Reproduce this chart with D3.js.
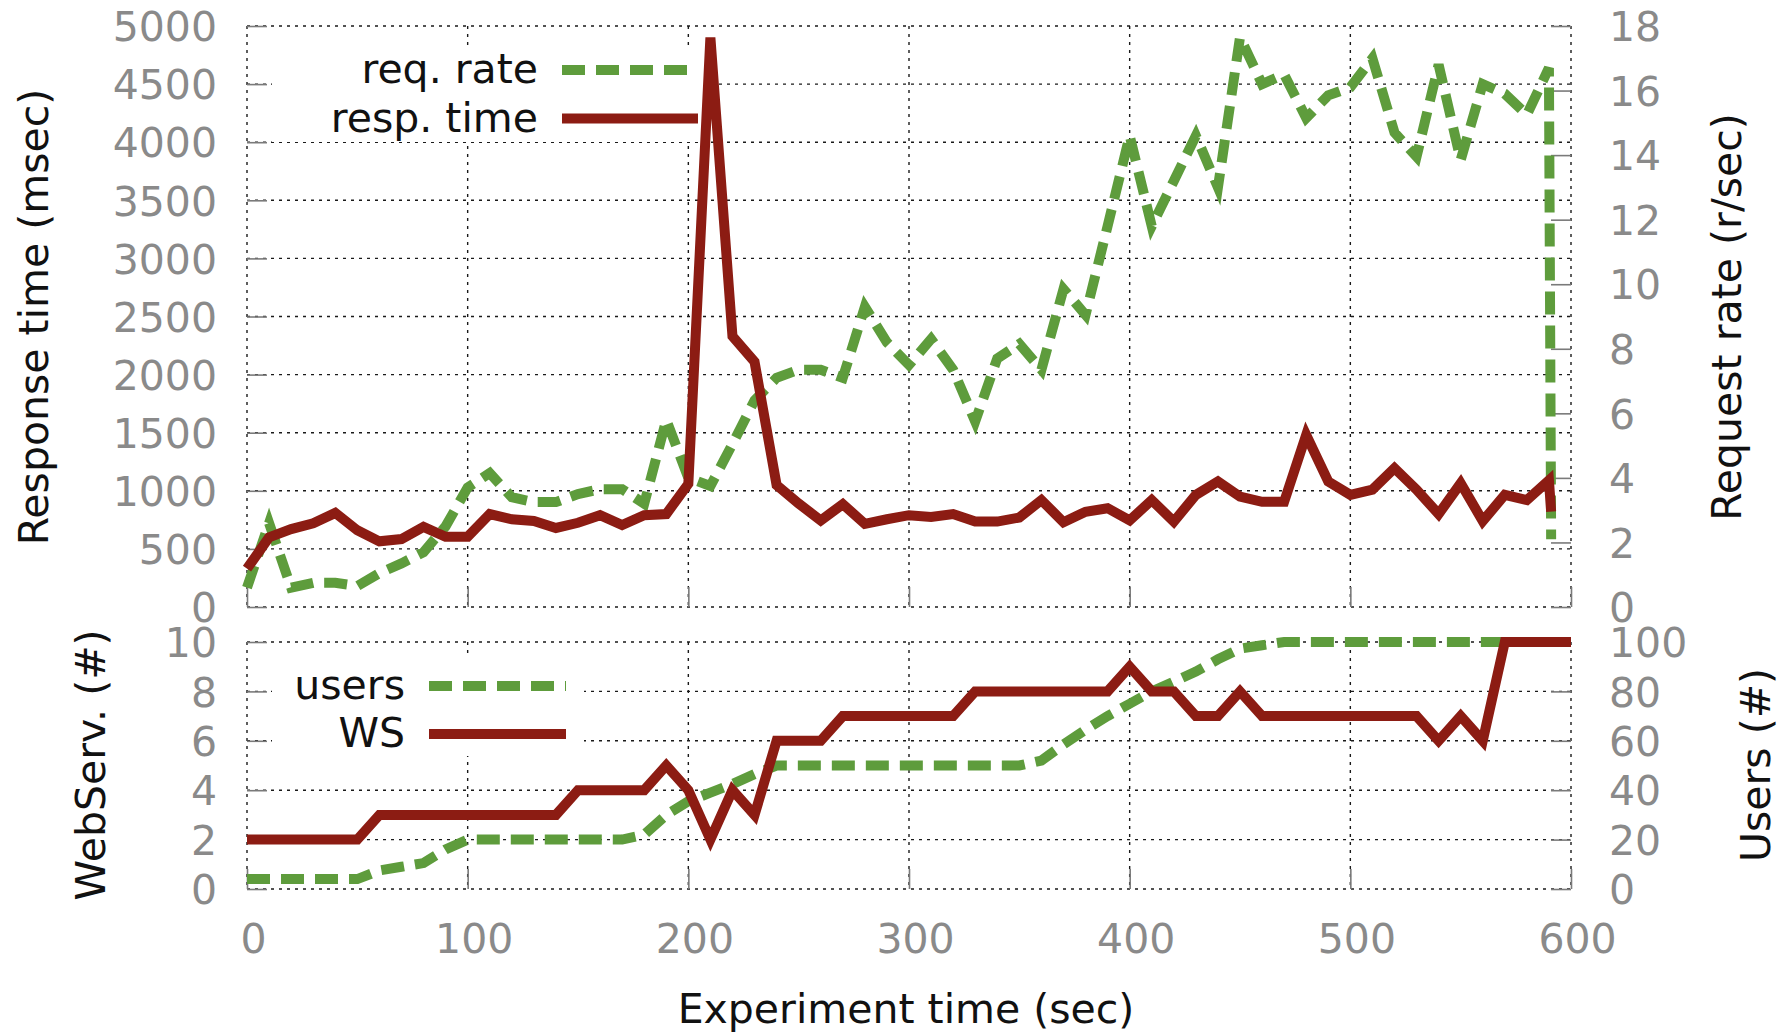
<!DOCTYPE html>
<html>
<head>
<meta charset="utf-8">
<script src="https://cdn.jsdelivr.net/npm/d3@7/dist/d3.min.js"></script>
<style>
  body { margin: 0; background: #fff; }
  svg { display: block; }
  text { font-family: "DejaVu Sans", sans-serif; }
</style>
</head>
<body>
<svg id="chart" width="1789" height="1034"></svg>
<script>
// ---------------- data ----------------
const timeTop = [0,10,20,30,40,50,60,70,80,90,100,110,120,130,140,150,160,170,180,190,200,210,220,230,240,250,260,270,280,290,300,310,320,330,340,350,360,370,380,390,400,410,420,430,440,450,460,470,480,490,500,510,520,530,540,550,560,570,580,590,591];
const respTime = [330,600,670,720,810,660,565,585,690,605,605,800,755,740,680,725,790,706,790,800,1060,4900,2330,2110,1050,890,745,885,715,755,790,775,800,735,735,770,920,730,820,850,745,920,735,965,1080,950,905,905,1480,1080,965,1010,1195,1010,800,1065,740,965,920,1090,820];
const reqRate = [0.6,2.6,0.6,0.75,0.75,0.65,1.05,1.35,1.7,2.5,3.7,4.15,3.4,3.25,3.25,3.5,3.65,3.65,3.2,5.8,4.0,3.75,5.05,6.4,7.1,7.35,7.35,7.1,9.3,8.2,7.5,8.3,7.35,5.75,7.7,8.15,7.35,9.85,9.05,11.8,14.6,11.8,13.2,14.6,13.0,17.65,16.2,16.5,15.15,15.85,16.1,17.0,14.7,13.95,16.8,13.85,16.2,15.9,15.25,16.7,2.1];

const timeBottom = [0,10,20,30,40,50,60,70,80,90,100,110,120,130,140,150,160,170,180,190,200,210,220,230,240,250,260,270,280,290,300,310,320,330,340,350,360,370,380,390,400,410,420,430,440,450,460,470,480,490,500,510,520,530,540,550,560,570,580,590,600];
const users = [4,4,4,4,4,4,7.5,9,10.5,16,20,20,20,20,20,20,20,20,22,30,35.5,39,42.5,46.5,50,50,50,50,50,50,50,50,50,50,50,50,52,58.5,64.5,70,75,80,84,88,93,97.3,98.7,100,100,100,100,100,100,100,100,100,100,100,100,100,100];
const webServers = [2,2,2,2,2,2,3,3,3,3,3,3,3,3,3,4,4,4,4,5,4,2,4,3,6,6,6,7,7,7,7,7,7,8,8,8,8,8,8,8,9,8,8,7,7,8,7,7,7,7,7,7,7,7,6,7,6,10,10,10,10];

const xTicks = [0,100,200,300,400,500,600];
const respTicks = [0,500,1000,1500,2000,2500,3000,3500,4000,4500,5000];
const rateTicks = [0,2,4,6,8,10,12,14,16,18];
const wsTicks = [0,2,4,6,8,10];
const userTicks = [0,20,40,60,80,100];

const topLegend = ["req. rate", "resp. time"];
const bottomLegend = ["users", "WS"];

// ---------------- layout ----------------
const L = 247, R = 1571;
const top1 = 26, bot1 = 607;
const top2 = 642, bot2 = 889;
const FS = 41;
const GREEN = "#5e9c3c", RED = "#8c1c13";
const TICKC = "#7a7a7a", LABELC = "#8a8a8a";
const fmt = d3.format("d");

const svg = d3.select("#chart");
svg.append("rect").attr("width", 1789).attr("height", 1034).attr("fill", "#fff");

const x = d3.scaleLinear().domain([0, 600]).range([L, R]);
const yResp = d3.scaleLinear().domain([0, 5000]).range([bot1, top1]);
const yRate = d3.scaleLinear().domain([0, 18]).range([bot1, top1]);
const yWS = d3.scaleLinear().domain([0, 10]).range([bot2, top2]);
const yUsers = d3.scaleLinear().domain([0, 100]).range([bot2, top2]);

function grid(yScale, yVals, y0, y1) {
  const g = svg.append("g").attr("stroke", "#1a1a1a").attr("stroke-width", 1.4)
    .attr("stroke-dasharray", "3,5").attr("fill", "none");
  g.selectAll("line.v").data(xTicks).join("line")
    .attr("x1", d => x(d)).attr("x2", d => x(d)).attr("y1", y0).attr("y2", y1);
  g.selectAll("line.h").data(yVals).join("line")
    .attr("x1", L).attr("x2", R).attr("y1", d => yScale(d)).attr("y2", d => yScale(d));
}
grid(yResp, respTicks, top1, bot1);
grid(yWS, wsTicks, top2, bot2);

function styleAxis(g) {
  g.select(".domain").remove();
  g.selectAll(".tick line").attr("stroke", TICKC).attr("stroke-width", 1.6);
  g.selectAll(".tick text").attr("fill", LABELC).attr("font-size", FS)
    .attr("font-family", "DejaVu Sans, sans-serif");
}

// left axes
svg.append("g").attr("transform", `translate(${L},0)`)
  .call(d3.axisLeft(yResp).tickValues(respTicks).tickFormat(fmt).tickSize(-20).tickPadding(30))
  .call(styleAxis).call(g => g.selectAll(".tick text").attr("dy", "0.36em"));
svg.append("g").attr("transform", `translate(${L},0)`)
  .call(d3.axisLeft(yWS).tickValues(wsTicks).tickFormat(fmt).tickSize(-20).tickPadding(30))
  .call(styleAxis).call(g => g.selectAll(".tick text").attr("dy", "0.36em"));
// right axes
svg.append("g").attr("transform", `translate(${R},0)`)
  .call(d3.axisRight(yRate).tickValues(rateTicks).tickFormat(fmt).tickSize(-20).tickPadding(38))
  .call(styleAxis).call(g => g.selectAll(".tick text").attr("dy", "0.36em"));
svg.append("g").attr("transform", `translate(${R},0)`)
  .call(d3.axisRight(yUsers).tickValues(userTicks).tickFormat(fmt).tickSize(-20).tickPadding(38))
  .call(styleAxis).call(g => g.selectAll(".tick text").attr("dy", "0.36em"));
// bottom axes
svg.append("g").attr("transform", `translate(0,${bot1})`)
  .call(d3.axisBottom(x).tickValues(xTicks).tickSize(-20).tickFormat(""))
  .call(styleAxis);
svg.append("g").attr("transform", `translate(0,${bot2})`)
  .call(d3.axisBottom(x).tickValues(xTicks).tickFormat(fmt).tickSize(-20).tickPadding(35))
  .call(styleAxis).call(g => g.selectAll(".tick text").attr("dx", 6));

// legends backgrounds
svg.append("rect").attr("x", 272).attr("y", 45).attr("width", 432).attr("height", 97).attr("fill", "#fff");
svg.append("rect").attr("x", 272).attr("y", 656).attr("width", 312).attr("height", 100).attr("fill", "#fff");

// lines
function drawLine(xs, ys, yScale, color, dashed) {
  const data = xs.map((t, i) => [t, ys[i]]);
  svg.append("path").datum(data)
    .attr("fill", "none").attr("stroke", color).attr("stroke-width", 10)
    .attr("stroke-linejoin", "miter").attr("stroke-miterlimit", 4)
    .attr("stroke-dasharray", dashed ? "23,11" : null)
    .attr("d", d3.line().x(d => x(d[0])).y(d => yScale(d[1])));
}
drawLine(timeTop, reqRate, yRate, GREEN, true);
drawLine(timeTop, respTime, yResp, RED, false);
drawLine(timeBottom, users, yUsers, GREEN, true);
drawLine(timeBottom, webServers, yWS, RED, false);

// legend entries
function legend(names, textRight, sx0, sx1, ys, colors, dashes) {
  names.forEach((n, i) => {
    svg.append("text").attr("x", textRight).attr("y", ys[i] + 13)
      .attr("text-anchor", "end").attr("font-size", FS).attr("fill", "#111").text(n);
    svg.append("line").attr("x1", sx0).attr("x2", sx1).attr("y1", ys[i]).attr("y2", ys[i])
      .attr("stroke", colors[i]).attr("stroke-width", 10)
      .attr("stroke-dasharray", dashes[i] ? "23,11" : null);
  });
}
legend(topLegend, 538, 562, 698, [70, 118.5], [GREEN, RED], [true, false]);
legend(bottomLegend, 405, 429, 566, [686, 734], [GREEN, RED], [true, false]);

// axis titles
function vtitle(txt, xb, yc) {
  svg.append("text").attr("transform", `translate(${xb},${yc}) rotate(-90)`)
    .attr("text-anchor", "middle").attr("font-size", FS).attr("fill", "#111").text(txt);
}
vtitle("Response time (msec)", 48, 317);
vtitle("WebServ. (#)", 105, 765);
vtitle("Request rate (r/sec)", 1741, 317);
vtitle("Users (#)", 1770, 765);
svg.append("text").attr("x", 906).attr("y", 1023).attr("text-anchor", "middle")
  .attr("font-size", FS).attr("fill", "#111").text("Experiment time (sec)");
</script>
</body>
</html>
